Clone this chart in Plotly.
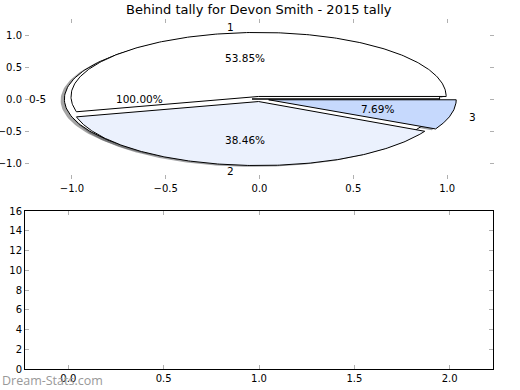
import numpy as np
import plotly.graph_objects as go

# ---- data ----
title_text = "Behind tally for Devon Smith - 2015 tally"
pie_a_labels = ["0-5"]
pie_a_values = [1]
pie_b_labels = ["1", "2", "3"]
pie_b_values = [7, 5, 1]
pie_ticks = [-1.0, -0.5, 0.0, 0.5, 1.0]
pie_ticklabels = ["\u22121.0", "\u22120.5", "0.0", "0.5", "1.0"]
bar_xticks = [0.0, 0.5, 1.0, 1.5, 2.0]
bar_xticklabels = ["0.0", "0.5", "1.0", "1.5", "2.0"]
bar_yticks = [0, 2, 4, 6, 8, 10, 12, 14, 16]
bar_yticklabels = ["0", "2", "4", "6", "8", "10", "12", "14", "16"]

# ---- styles ----
pie_a_colors = ["#ffffff"]
pie_b_colors = ["#ffffff", "#ebf1fd", "#c6d9fd"]
pie_a_explode = [0.04]
pie_b_explode = [0.04, 0.04, 0.05]
FONT = "DejaVu Sans"

fig = go.Figure()


def wedge_geom(values, explode):
    tot = float(sum(values))
    out = []
    start = 0.0
    for v, e in zip(values, explode):
        frac = v / tot
        t1, t2 = start, start + 360.0 * frac
        mid = np.deg2rad((t1 + t2) / 2)
        cx, cy = e * np.cos(mid), e * np.sin(mid)
        th = np.deg2rad(np.linspace(t1, t2, 241))
        xs = np.concatenate([[cx], cx + np.cos(th), [cx]])
        ys = np.concatenate([[cy], cy + np.sin(th), [cy]])
        out.append((xs, ys, cx, cy, mid, frac))
        start = t2
    return out


geo_a = wedge_geom(pie_a_values, pie_a_explode)
geo_b = wedge_geom(pie_b_values, pie_b_explode)

# shadows first (under all wedges)
for geo, cols in ((geo_a, pie_a_colors), (geo_b, pie_b_colors)):
    for (xs, ys, cx, cy, mid, frac), c in zip(geo, cols):
        r, g, b = int(c[1:3], 16), int(c[3:5], 16), int(c[5:7], 16)
        fig.add_trace(go.Scatter(
            x=xs - 0.02, y=ys - 0.02, mode="lines", fill="toself",
            fillcolor=f"rgba({int(r*0.3)},{int(g*0.3)},{int(b*0.3)},0.5)",
            line=dict(width=0), hoverinfo="skip", showlegend=False,
            xaxis="x", yaxis="y"))

# wedges
for geo, cols in ((geo_a, pie_a_colors), (geo_b, pie_b_colors)):
    for (xs, ys, cx, cy, mid, frac), c in zip(geo, cols):
        fig.add_trace(go.Scatter(
            x=xs, y=ys, mode="lines", fill="toself", fillcolor=c,
            line=dict(color="black", width=1), hoverinfo="skip",
            showlegend=False, xaxis="x", yaxis="y"))

# labels
annotations = []
for geo, labels in ((geo_a, pie_a_labels), (geo_b, pie_b_labels)):
    for (xs, ys, cx, cy, mid, frac), lab in zip(geo, labels):
        lx, ly = cx + 1.1 * np.cos(mid), cy + 1.1 * np.sin(mid)
        annotations.append(dict(
            x=lx, y=ly, xref="x", yref="y", text=lab, showarrow=False,
            xanchor="right" if lx < 0 else "left", yanchor="middle",
            borderpad=0, borderwidth=0,
            font=dict(family=FONT, size=10.5, color="black")))
        px, py = cx + 0.6 * np.cos(mid), cy + 0.6 * np.sin(mid)
        annotations.append(dict(
            x=px, y=py, xref="x", yref="y", text=f"{frac*100:.2f}%",
            showarrow=False, xanchor="center", yanchor="middle",
            font=dict(family=FONT, size=10.5, color="black")))

annotations.append(dict(
    x=259 / 520, y=1 - 9 / 390, xref="paper", yref="paper", text=title_text,
    showarrow=False, xanchor="center", yanchor="middle",
    font=dict(family=FONT, size=13, color="black")))
annotations.append(dict(
    x=0, y=1 - 380 / 390, xref="paper", yref="paper", text="Dream-Stats.com",
    showarrow=False, xanchor="left", yanchor="middle",
    font=dict(family="Open Sans", size=12.5, color="#999999")))

tick_common = dict(ticks="inside", ticklen=4, tickwidth=1, tickcolor="#b0b0b0",
                   showgrid=False, zeroline=False, automargin=False,
                   tickfont=dict(family=FONT, size=10, color="black"))

fig.update_layout(
    width=520, height=390, margin=dict(l=0, r=0, t=0, b=0, pad=0),
    paper_bgcolor="white", plot_bgcolor="white",
    annotations=annotations,
    xaxis=dict(domain=[25 / 520, 494 / 520], range=[-1.25, 1.25],
               tickvals=pie_ticks, ticktext=pie_ticklabels,
               showline=True, linecolor="rgba(0,0,0,0)", mirror="ticks",
               anchor="y", **tick_common),
    yaxis=dict(domain=[1 - 179 / 390, 1 - 19 / 390], range=[-1.25, 1.25],
               tickvals=pie_ticks, ticktext=pie_ticklabels,
               showline=True, linecolor="rgba(0,0,0,0)", mirror="ticks",
               anchor="x", **tick_common),
    xaxis2=dict(domain=[25 / 520, 493 / 520], range=[-0.227, 2.227],
                tickvals=bar_xticks, ticktext=bar_xticklabels,
                showline=True, linecolor="black", linewidth=1, mirror="ticks",
                anchor="y2", **tick_common),
    yaxis2=dict(domain=[1 - 369 / 390, 1 - 211 / 390], range=[0, 16],
                tickvals=bar_yticks, ticktext=bar_yticklabels,
                showline=True, linecolor="black", linewidth=1, mirror="ticks",
                anchor="x2", **tick_common),
)
fig.add_trace(go.Scatter(x=[None], y=[None], xaxis="x2", yaxis="y2",
                         showlegend=False, hoverinfo="skip"))

fig.write_html(
    "out.html",
    config={"displayModeBar": False},
    post_script="document.body.style.margin='0';document.body.style.padding='0';",
)
